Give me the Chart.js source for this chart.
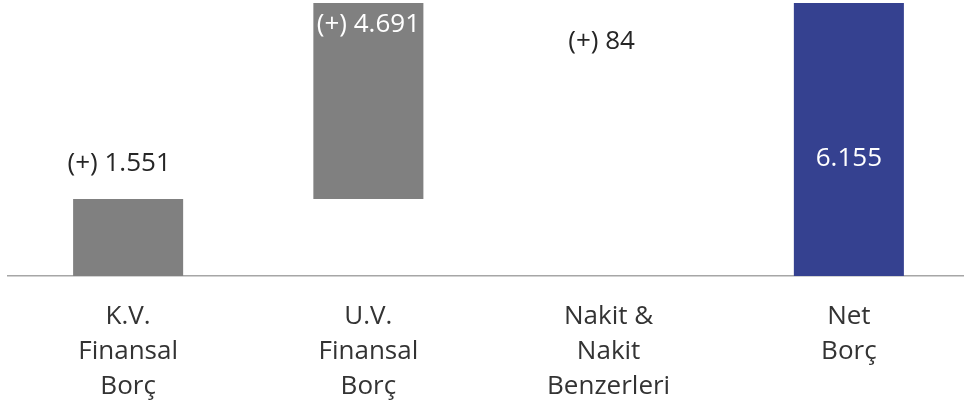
<!DOCTYPE html>
<html>
<head>
<meta charset="utf-8">
<script src="https://cdn.jsdelivr.net/npm/chart.js@4.4.1/dist/chart.umd.min.js"></script>
<style>
  html, body { margin: 0; padding: 0; background: #fff; overflow: hidden; }
  #wrap { width: 970px; height: 408px; }
</style>
</head>
<body>
<div id="wrap"><canvas id="netDebt"></canvas></div>
<script>
// ---------- DATA ----------
const categories = [
  ["K.V.", "Finansal", "Borç"],
  ["U.V.", "Finansal", "Borç"],
  ["Nakit &", "Nakit", "Benzerleri"],
  ["Net", "Borç"],
];
const stepValues = [1551, 4691, 84, 6155];
const valueLabels = ["(+) 1.551", "(+) 4.691", "(+) 84", "6.155"];
const yMax = 5500;

// waterfall: each step floats on the running total, last bar is the total
const floating = [];
let running = 0;
stepValues.forEach((v, i) => {
  if (i === stepValues.length - 1) {
    floating.push([0, v]);
  } else if (i === 2) {
    // cash reduces the debt
    floating.push([running - v, running]);
    running -= v;
  } else {
    floating.push([running, running + v]);
    running += v;
  }
});

const COLORS = {
  step: "#808080",
  total: "#354190",
  text: "#262626",
  axis: "#a6a6a6",
};

// ---------- VALUE LABELS ----------
const valueLabelPlugin = {
  id: "valueLabels",
  afterDatasetsDraw(chart) {
    const { ctx, chartArea } = chart;
    const bars = chart.getDatasetMeta(0).data;
    ctx.save();
    ctx.font = "26px 'Open Sans'";
    ctx.textAlign = "center";
    ctx.textBaseline = "middle";
    bars.forEach((bar, i) => {
      let x = bar.x, y, color;
      if (i === 0) {
        x -= 9;
        y = bar.y - 35;
        color = COLORS.text;
      } else if (i === 1) {
        y = chartArea.top + 22;
        color = "#fff";
      } else if (i === 2) {
        x -= 7;
        y = chartArea.top + 39;
        color = COLORS.text;
      } else {
        y = (chartArea.top + chartArea.bottom) / 2 + 19;
        color = "#fff";
      }
      ctx.fillStyle = color;
      ctx.fillText(valueLabels[i], x, y);
    });
    ctx.restore();
  },
};

new Chart(document.getElementById("netDebt"), {
  type: "bar",
  data: {
    labels: categories,
    datasets: [
      {
        data: floating,
        backgroundColor: [COLORS.step, COLORS.step, COLORS.step, COLORS.total],
        borderWidth: 0,
        barPercentage: 0.458,
        categoryPercentage: 1,
      },
    ],
  },
  options: {
    responsive: true,
    maintainAspectRatio: false,
    animation: false,
    layout: { padding: { top: 3, left: 8, right: 1, bottom: 0 } },
    plugins: {
      legend: { display: false },
      tooltip: { enabled: false },
    },
    scales: {
      x: {
        grid: { display: false, drawTicks: false },
        border: { display: true, color: COLORS.axis, width: 1.5 },
        ticks: {
          color: "#333",
          padding: 23,
          maxRotation: 0,
          font: { family: "'Open Sans'", size: 26, lineHeight: "35px" },
        },
        afterFit: (scale) => { scale.height = 132; },
      },
      y: {
        display: false,
        min: 0,
        max: yMax,
      },
    },
  },
  plugins: [valueLabelPlugin],
});
</script>
</body>
</html>
